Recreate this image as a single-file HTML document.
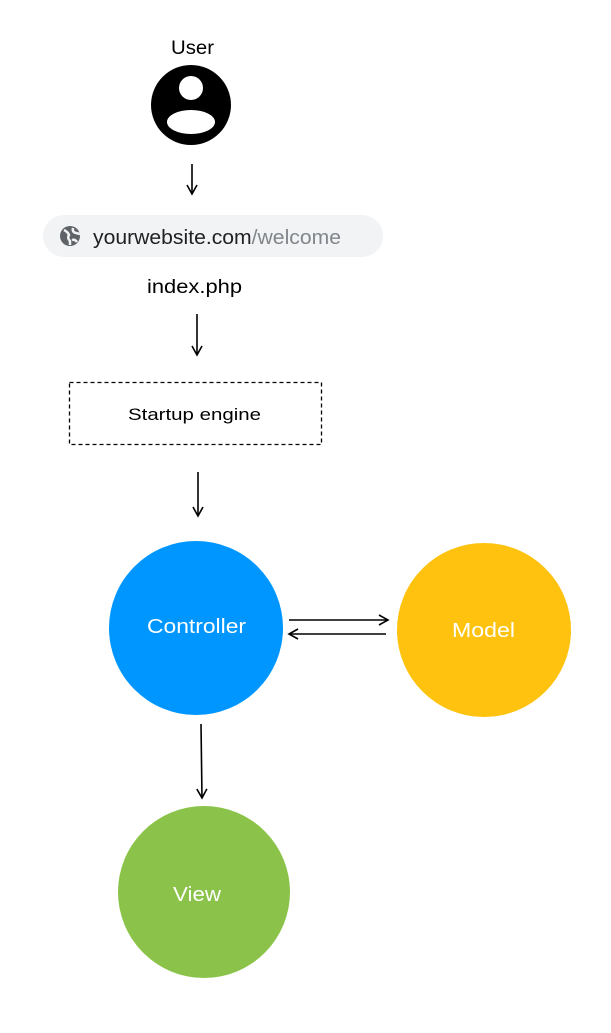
<!DOCTYPE html>
<html><head><meta charset="utf-8"><style>
html,body{margin:0;padding:0;background:#fff;}
svg{display:block;}
text{font-family:"Liberation Sans",sans-serif;}
</style></head><body>
<svg width="611" height="1033" viewBox="0 0 611 1033" xmlns="http://www.w3.org/2000/svg">
<defs>
<marker id="ah" markerWidth="12" markerHeight="12" refX="10" refY="6" orient="auto" markerUnits="userSpaceOnUse">
<path d="M1,1 L10,6 L1,11" fill="none" stroke="#000" stroke-width="1.6"/>
</marker>
</defs>
<text x="171" y="54" font-size="19" textLength="43" lengthAdjust="spacingAndGlyphs">User</text>
<circle cx="191" cy="105" r="40" fill="#000"/>
<circle cx="191" cy="88" r="12" fill="#fff"/>
<ellipse cx="191" cy="122" rx="24" ry="12" fill="#fff"/>
<line x1="192" y1="164" x2="192" y2="194" stroke="#000" stroke-width="1.6" marker-end="url(#ah)"/>
<rect x="43" y="215" width="340" height="42" rx="21" fill="#f1f3f4"/>
<circle cx="70" cy="236" r="10" fill="#5f6368"/>
<path d="M64,230 q4,2 5,5 q-2,3 1,6 l0,4 M73,228 q-1,4 3,5 l4,1 M72,240 q3,-1 5,2" stroke="#f1f3f4" stroke-width="2.5" fill="none"/>
<text x="93" y="244" font-size="20" textLength="248" lengthAdjust="spacingAndGlyphs"><tspan fill="#202124">yourwebsite.com</tspan><tspan fill="#80868b">/welcome</tspan></text>
<text x="147" y="293" font-size="19" textLength="95" lengthAdjust="spacingAndGlyphs">index.php</text>
<line x1="197" y1="314" x2="197" y2="355" stroke="#000" stroke-width="1.6" marker-end="url(#ah)"/>
<rect x="69.5" y="382.5" width="252" height="62" fill="none" stroke="#000" stroke-width="1.3" stroke-dasharray="4,3"/>
<text x="128" y="420" font-size="17" textLength="133" lengthAdjust="spacingAndGlyphs">Startup engine</text>
<line x1="198" y1="472" x2="198" y2="516" stroke="#000" stroke-width="1.6" marker-end="url(#ah)"/>
<circle cx="196" cy="628" r="87" fill="#0096ff"/>
<text x="147" y="633" font-size="20" fill="#fff" textLength="99" lengthAdjust="spacingAndGlyphs">Controller</text>
<circle cx="484" cy="630" r="87" fill="#fec20f"/>
<text x="452" y="637" font-size="20" fill="#fff" textLength="63" lengthAdjust="spacingAndGlyphs">Model</text>
<line x1="289" y1="620" x2="388" y2="620" stroke="#000" stroke-width="1.6" marker-end="url(#ah)"/>
<line x1="386" y1="634" x2="289" y2="634" stroke="#000" stroke-width="1.6" marker-end="url(#ah)"/>
<line x1="201" y1="724" x2="202" y2="798" stroke="#000" stroke-width="1.6" marker-end="url(#ah)"/>
<circle cx="204" cy="892" r="86" fill="#8bc34a"/>
<text x="173" y="901" font-size="20" fill="#fff" textLength="48" lengthAdjust="spacingAndGlyphs">View</text>
</svg>
</body></html>
